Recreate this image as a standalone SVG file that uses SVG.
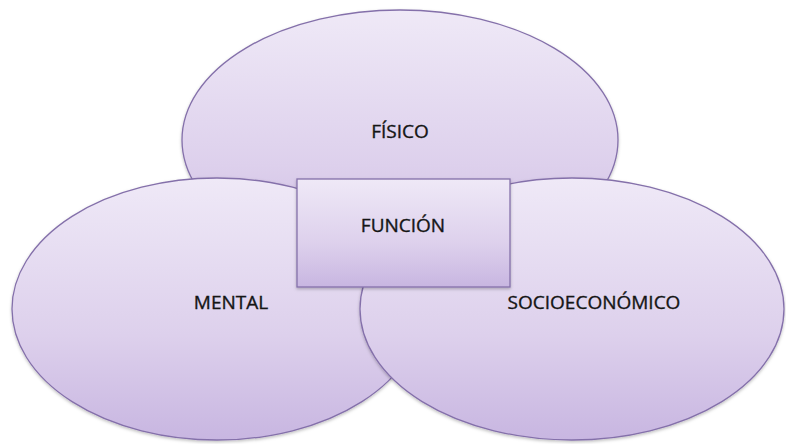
<svg xmlns="http://www.w3.org/2000/svg" width="786" height="444" viewBox="0 0 786 444">
  <defs>
    <linearGradient id="g" x1="0" y1="0" x2="0" y2="1">
      <stop offset="0" stop-color="#efe9f7"/>
      <stop offset="0.6" stop-color="#ddd0ec"/>
      <stop offset="1" stop-color="#c8b6e1"/>
    </linearGradient>
    <filter id="sh" x="-5%" y="-5%" width="110%" height="115%">
      <feDropShadow dx="0" dy="1.5" stdDeviation="1.5" flood-color="#000" flood-opacity="0.25"/>
    </filter>
  </defs>
  <style>
    .shape { fill: url(#g); stroke: #8470aa; stroke-width: 1.3; filter: url(#sh); }
    .lbl { font-family: "Open Sans", "Noto Sans", sans-serif; font-size: 19px; fill: #151515; stroke: #151515; stroke-width: 0.35; text-anchor: middle; }
  </style>
  <rect width="786" height="444" fill="#ffffff"/>
  <g id="fisico">
    <ellipse class="shape" cx="400" cy="140" rx="218" ry="130"/>
    <text class="lbl" x="400" y="138">FÍSICO</text>
  </g>
  <g id="mental">
    <ellipse class="shape" cx="217" cy="309" rx="205" ry="131"/>
    <text class="lbl" x="231" y="309">MENTAL</text>
  </g>
  <g id="socioeconomico">
    <ellipse class="shape" cx="572" cy="309" rx="212" ry="131"/>
    <text class="lbl" x="594" y="309">SOCIOECONÓMICO</text>
  </g>
  <g id="funcion">
    <rect class="shape" x="297" y="179" width="213" height="108"/>
    <text class="lbl" x="403" y="232">FUNCIÓN</text>
  </g>
  <g id="connectors"/>
</svg>
